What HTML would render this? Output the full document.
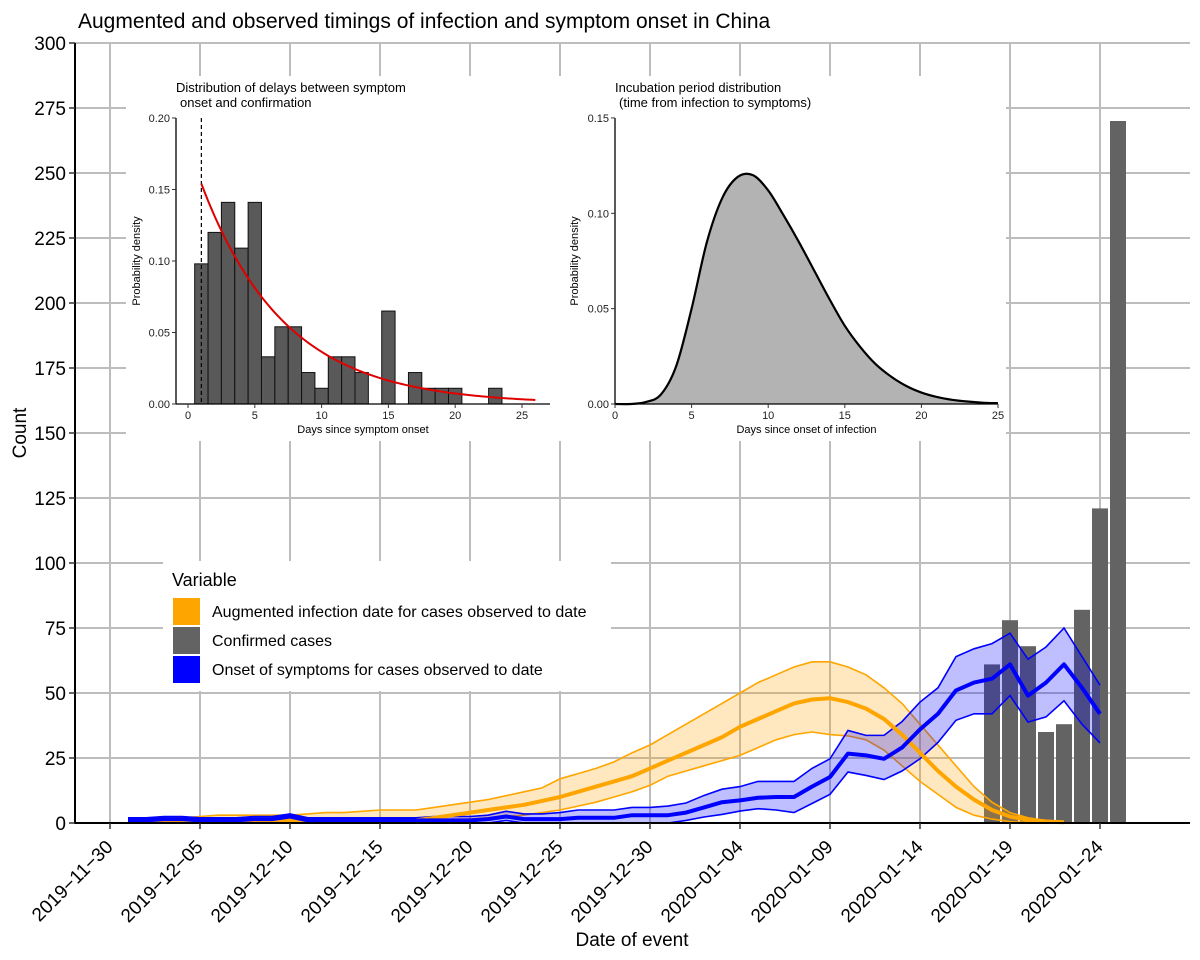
<!DOCTYPE html>
<html><head><meta charset="utf-8">
<style>
html,body{margin:0;padding:0;background:#fff;}
svg{display:block;font-family:"Liberation Sans",Arial,sans-serif;}
</style></head>
<body>
<svg id="chart" width="1200" height="960" viewBox="0 0 1200 960" xmlns="http://www.w3.org/2000/svg">
<rect x="0" y="0" width="1200" height="960" fill="#fff"/>
<text x="78" y="28" font-size="21" fill="#000">Augmented and observed timings of infection and symptom onset in China</text>
<g id="grid"></g>
<g id="marks"></g>
<g id="axes"></g>
<g id="inset1"></g>
<g id="inset2"></g>
<g id="legend"></g>
</svg>
<script>
// ===== Main chart data (day 1 = 2019-12-01) =====
const tickLabels = ["2019-11-30","2019-12-05","2019-12-10","2019-12-15","2019-12-20","2019-12-25","2019-12-30","2020-01-04","2020-01-09","2020-01-14","2020-01-19","2020-01-24"];
const yTicks = [0,25,50,75,100,125,150,175,200,225,250,275,300];
const infMedian = [0.5,0.5,0.5,0.5,0.5,0.5,0.5,0.5,0.5,1,0.5,0.5,0.5,0.5,0.5,0.5,1,2,3,4,5,6,7,8.5,10,12,14,16,18,21,24,27,30,33,37,40,43,46,47.5,48,46.5,44,40,34,27,20,14,9,5,2.5,1.2,0.6,0.3];
const infUpper = [2,2,2,2,2.5,3,3,3,3,3,3.5,4,4,4.5,5,5,5,6,7,8,9,10.5,12,13.5,17,19,21,23.5,27,30,34,38,42,46,50,54,57,60,62,62,60,57,52,46,38,30,22,14,8,4,2,1,0.5];
const infLower = [0,0,0,0,0,0,0,0,0,0,0,0,0,0,0,0,0,0.5,1,1.5,2,2.5,3,4,5,6.5,8,10,12,14.5,18,20,22,24,26,29,32,34,35,34,33.5,32,28,22,16,11,6,3,1.5,0.5,0.2,0,0];
const onsMedian = [1,1,1.5,1.5,1,1,1,1.5,1.5,2.5,1,1,1,1,1,1,1,1,1,1,1.5,2.5,1.5,1.5,1.5,2,2,2,3,3,3,4,6,8,8.7,9.7,10,10,14,17.7,26.7,26,24.7,29,36,42,51,54,55.5,61,49,54,61,52,42];
const onsUpper = [2,2,2.5,2.5,2,2,2,2.5,2.5,3.5,2,2,2,2,2,2,2,2.5,2.5,2.5,3,4.5,3.5,3.5,4,5,5,5,6,6,6.5,7.7,10.6,13,14,16,16,16,21,24.7,35.6,33.7,33.7,39,46.5,52,64,67,69,73,63,67.7,75,64,53];
const onsLower = [0,0,0,0,0,0,0,0,0,1,0,0,0,0,0,0,0,0,0,0,0,1,0,0,0,0,0,0,0,0,0,1,2.3,3.3,4.6,5.5,5,4,7.5,11,19.6,18.3,16.7,20,24.7,31,39.5,42,42,49,38.8,40.8,47,38,30.8];
const confDays = [49,50,51,52,53,54,55,56];
const confCounts = [61,78,68,35,38,82,121,270];

// ===== Inset data =====
const delayDays = [1,2,3,4,5,6,7,8,9,10,11,12,13,14,15,16,17,18,19,20,21,22,23];
const delayDensity = [0.098,0.12,0.141,0.109,0.141,0.033,0.054,0.054,0.022,0.011,0.033,0.033,0.022,0,0.065,0,0.022,0.011,0.011,0.011,0,0,0.011];
const delayFitStart = 0.154;
const delayFitRate = 0.16;
const delayXTicks = [0,5,10,15,20,25];
const delayYTicks = [0,0.05,0.10,0.15,0.20];
const incubDays = [0,1,2,3,4,5,6,7,8,9,10,11,12,13,14,15,16,17,18,19,20,21,22,23,24,25];
const incubDensity = [0,0,0.001,0.005,0.02,0.05,0.085,0.108,0.119,0.12,0.112,0.099,0.085,0.07,0.055,0.041,0.03,0.021,0.0145,0.0095,0.006,0.0037,0.0022,0.0013,0.0007,0.0004];
const incubXTicks = [0,5,10,15,20,25];
const incubYTicks = [0,0.05,0.10,0.15];

const NS = "http://www.w3.org/2000/svg";
function mk(tag, attrs, parent){const e=document.createElementNS(NS,tag);for(const k in attrs)e.setAttribute(k,attrs[k]);parent.appendChild(e);return e;}

const X0 = 110, PXDAY = 18, Y0 = 823, PXUNIT = 2.6;
const xs = d => X0 + d*PXDAY;
const ys = v => Y0 - v*PXUNIT;

const grid = document.getElementById('grid');
const marks = document.getElementById('marks');
const axes = document.getElementById('axes');

yTicks.forEach(v=>{
  const l = mk('line',{x1:75,x2:1190,y1:ys(v),y2:ys(v),stroke:'#bdbdbd','stroke-width':2},grid);
  
  
});
tickLabels.forEach((t,i)=>{
  const l = mk('line',{x1:xs(i*5),x2:xs(i*5),y1:43,y2:823,stroke:'#bdbdbd','stroke-width':2},grid);
  
  
});

confDays.forEach((d,i)=>{
  const w = 16;
  const r = mk('rect',{x:xs(d)-w/2,y:ys(confCounts[i]),width:w,height:ys(0)-ys(confCounts[i]),fill:'#636363'},marks);
  
  
});

function ribbon(lo, hi, start, fill, stroke, name){
  let pts=[];
  hi.forEach((v,i)=>pts.push(xs(start+i)+','+ys(v)));
  for(let i=lo.length-1;i>=0;i--) pts.push(xs(start+i)+','+ys(lo[i]));
  const p = mk('polygon',{points:pts.join(' '),fill:fill,stroke:'none'},marks);
  
  
  [hi,lo].forEach(arr=>{
    const l = mk('polyline',{points:arr.map((v,i)=>xs(start+i)+','+ys(v)).join(' '),fill:'none',stroke:stroke,'stroke-width':1.6},marks);
    
    
  });
}
function line(arr,start,stroke,name){
  const l = mk('polyline',{points:arr.map((v,i)=>xs(start+i)+','+ys(v)).join(' '),fill:'none',stroke:stroke,'stroke-width':4,'stroke-linejoin':'round'},marks);
  
  
}
ribbon(infLower,infUpper,1,'rgba(255,165,0,0.25)','#FFA500','infection');
ribbon(onsLower,onsUpper,1,'rgba(0,0,255,0.25)','#0000FF','onset');
line(infMedian,1,'#FFA500','infection-median-line');
line(onsMedian,1,'#0000FF','onset-median-line');

let a = mk('line',{x1:75,x2:75,y1:43,y2:824,stroke:'#000','stroke-width':2},axes);
 
a = mk('line',{x1:74,x2:1190,y1:823,y2:823,stroke:'#000','stroke-width':2},axes);
 
yTicks.forEach(v=>{
  mk('line',{x1:69,x2:75,y1:ys(v),y2:ys(v),stroke:'#333','stroke-width':1.5},axes);
  const t = mk('text',{x:66,y:ys(v)+7,'text-anchor':'end','font-size':19,fill:'#000'},axes);
  t.textContent = v;
  
  
});
tickLabels.forEach((lab,i)=>{
  const x = xs(i*5);
  mk('line',{x1:x,x2:x,y1:823,y2:829,stroke:'#333','stroke-width':1.5},axes);
  const t = mk('text',{x:x+4,y:848,'text-anchor':'end','font-size':19,fill:'#000',transform:`rotate(-45 ${x+4} 848)`},axes);
  t.textContent = lab.replace(/-/g,'\u2212');
  
  
});
let t = mk('text',{x:632,y:946,'text-anchor':'middle','font-size':19,fill:'#000'},axes);
t.textContent='Date of event';
 
t = mk('text',{x:26,y:433,'text-anchor':'middle','font-size':19,fill:'#000',transform:'rotate(-90 26 433)'},axes);
t.textContent='Count';
 

const in1 = document.getElementById('inset1');
const in2 = document.getElementById('inset2');
let bg = mk('rect',{x:126,y:76,width:880,height:365,fill:'#fff'},in1);
 

function insetAxes(g, ax, ay0, ay1, axEnd, xsF, ysF, xt, yt, yfmt, title1, title2, xlab, ylabX){
  mk('line',{x1:ax,x2:ax,y1:ay1,y2:ay0,stroke:'#000','stroke-width':1.3},g);
  mk('line',{x1:ax,x2:axEnd,y1:ay0,y2:ay0,stroke:'#000','stroke-width':1.3},g);
  yt.forEach(v=>{
    mk('line',{x1:ax-4,x2:ax,y1:ysF(v),y2:ysF(v),stroke:'#333'},g);
    const tt = mk('text',{x:ax-6,y:ysF(v)+4,'text-anchor':'end','font-size':11,fill:'#222'},g);
    tt.textContent = v.toFixed(yfmt);
     
  });
  xt.forEach(v=>{
    mk('line',{x1:xsF(v),x2:xsF(v),y1:ay0,y2:ay0+4,stroke:'#333'},g);
    const tt = mk('text',{x:xsF(v),y:ay0+15,'text-anchor':'middle','font-size':11,fill:'#222'},g);
    tt.textContent = v;
     
  });
  let tl = mk('text',{x:ax,y:92,'font-size':13,fill:'#000'},g); tl.textContent=title1;
   
  tl = mk('text',{x:ax+4,y:107,'font-size':13,fill:'#000'},g); tl.textContent=title2;
   
  tl = mk('text',{x:(ax+axEnd)/2,y:ay0+29,'text-anchor':'middle','font-size':11,fill:'#000'},g); tl.textContent=xlab;
   
  tl = mk('text',{x:ylabX,y:(ay0+ay1)/2,'text-anchor':'middle','font-size':11,fill:'#000',transform:`rotate(-90 ${ylabX} ${(ay0+ay1)/2})`},g); tl.textContent='Probability density';
   
}

const ix1 = d => 188 + d*13.36;
const iy1 = v => 404 - v*1430;
delayDays.forEach((d,i)=>{
  if(delayDensity[i]<=0) return;
  const r = mk('rect',{x:ix1(d-0.5),y:iy1(delayDensity[i]),width:13.36,height:iy1(0)-iy1(delayDensity[i]),fill:'#595959',stroke:'#111','stroke-width':1},in1);
  
  
});
let dl = mk('line',{x1:ix1(1),x2:ix1(1),y1:iy1(0.2),y2:iy1(0),stroke:'#000','stroke-width':1.2,'stroke-dasharray':'4,3'},in1);
 
let fp=[]; for(let d=1; d<=26.001; d+=0.25) fp.push(ix1(d)+','+iy1(delayFitStart*Math.exp(-delayFitRate*(d-1))));
let fl = mk('polyline',{points:fp.join(' '),fill:'none',stroke:'#e00000','stroke-width':2},in1);
 
insetAxes(in1,176,404,118,550,ix1,iy1,delayXTicks,delayYTicks,2,'Distribution of delays between symptom','onset and confirmation','Days since symptom onset',140);

const ix2 = d => 615 + d*15.32;
const iy2 = v => 404 - v*1907;
function smoothPath(xsA, ysA){
  const P = xsA.map((x,i)=>[ix2(x),iy2(ysA[i])]);
  let s = 'M'+P[0][0]+','+P[0][1];
  for(let i=0;i<P.length-1;i++){
    const p0=P[Math.max(0,i-1)],p1=P[i],p2=P[i+1],p3=P[Math.min(P.length-1,i+2)];
    const c1=[p1[0]+(p2[0]-p0[0])/6,p1[1]+(p2[1]-p0[1])/6];
    const c2=[p2[0]-(p3[0]-p1[0])/6,p2[1]-(p3[1]-p1[1])/6];
    s+=` C${c1[0]},${c1[1]} ${c2[0]},${c2[1]} ${p2[0]},${p2[1]}`;
  }
  return s;
}
const cp = smoothPath(incubDays, incubDensity);
let area = mk('path',{d:cp+` L${ix2(incubDays[incubDays.length-1])},${iy2(0)} L${ix2(incubDays[0])},${iy2(0)} Z`,fill:'#b3b3b3'},in2);
 
let cl = mk('path',{d:cp,fill:'none',stroke:'#000','stroke-width':2.2},in2);
 
insetAxes(in2,615,404,118,998,ix2,iy2,incubXTicks,incubYTicks,2,'Incubation period distribution','(time from infection to symptoms)','Days since onset of infection',578);

const lg = document.getElementById('legend');
let lb = mk('rect',{x:163,y:561,width:448,height:130,fill:'#fff'},lg);
 
let lt = mk('text',{x:172,y:586,'font-size':18,fill:'#000'},lg); lt.textContent='Variable';
 
const legItems = [['Augmented infection date for cases observed to date','#FFA500'],['Confirmed cases','#636363'],['Onset of symptoms for cases observed to date','#0000FF']];
legItems.forEach((it,i)=>{
  const y = 598 + i*29;
  const g = mk('g',{},lg);
  
  
  mk('rect',{x:173,y:y,width:27,height:27,fill:it[1]},g);
  const tx = mk('text',{x:212,y:y+19,'font-size':16,fill:'#000'},g);
  tx.textContent = it[0];
});
</script>
</body></html>
